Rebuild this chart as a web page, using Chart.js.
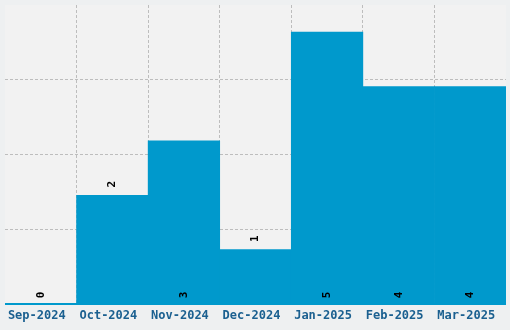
<!DOCTYPE html>
<html>
<head>
<meta charset="utf-8">
<script src="https://cdn.jsdelivr.net/npm/chart.js@4/dist/chart.umd.min.js"></script>
<style>
html,body{margin:0;padding:0;background:#eef0f1;}
canvas{display:block;}
</style>
</head>
<body>
<canvas id="c" width="510" height="330"></canvas>
<script>
const categories = ['Sep-2024','Oct-2024','Nov-2024','Dec-2024','Jan-2025','Feb-2025','Mar-2025'];
const values = [0, 2, 3, 1, 5, 4, 4];
const yTicks = [0, 1.375, 2.75, 4.125, 5.5];

const BAR = '#0099cc';
const GRID = 'rgba(0,0,0,0.22)';
const CLEAR = 'rgba(0,0,0,0)';
const FONT = '"DejaVu Sans Mono", monospace';

const bgPlugin = {
  id: 'bg',
  beforeDraw(chart) {
    const {ctx, chartArea: a} = chart;
    ctx.save();
    ctx.fillStyle = '#f2f2f2';
    ctx.fillRect(a.left, a.top, a.right - a.left, a.bottom - a.top);
    ctx.restore();
  }
};

const labelPlugin = {
  id: 'vlabels',
  afterDraw(chart) {
    const ctx = chart.ctx;
    const a = chart.chartArea;
    const meta = chart.getDatasetMeta(0);
    const base = chart.scales.y.getPixelForValue(0);
    ctx.save();
    // baseline axis line
    ctx.strokeStyle = BAR;
    ctx.lineWidth = 2;
    ctx.beginPath();
    ctx.moveTo(a.left, base);
    ctx.lineTo(a.right, base);
    ctx.stroke();
    ctx.font = 'bold 11px ' + FONT;
    ctx.fillStyle = '#000';
    ctx.textAlign = 'center';
    ctx.textBaseline = 'middle';
    meta.data.forEach((bar, i) => {
      const v = values[i];
      let y;
      if (v === 0 || v >= 3) y = base - 9;
      else y = bar.y - 11;
      ctx.save();
      ctx.translate(bar.x, y);
      ctx.rotate(-Math.PI / 2);
      ctx.fillText(String(v), 0, 0);
      ctx.restore();
    });
    ctx.restore();
  }
};

new Chart(document.getElementById('c'), {
  type: 'bar',
  data: {
    labels: categories,
    datasets: [{
      data: values,
      backgroundColor: BAR,
      borderWidth: 0,
      categoryPercentage: 1,
      barPercentage: 1
    }]
  },
  options: {
    responsive: false,
    animation: false,
    devicePixelRatio: 1,
    layout: { padding: { left: 5, top: 5, right: 4, bottom: 0 } },
    plugins: { legend: { display: false }, tooltip: { enabled: false } },
    scales: {
      x: {
        z: 1,
        offset: true,
        grid: {
          offset: true,
          drawTicks: false,
          lineWidth: 1,
          color: (c) => (c.type !== 'tick' || c.index === 0 || c.index >= categories.length) ? CLEAR : GRID
        },
        border: { display: false, dash: [3, 2] },
        ticks: {
          font: { family: FONT, size: 12, weight: 'bold' },
          color: '#1b6090',
          padding: 5,
          labelOffset: -4,
          maxRotation: 0,
          autoSkip: false
        },
        afterFit(s) { s.height = 26; }
      },
      y: {
        z: 1,
        min: 0,
        max: 5.5,
        afterBuildTicks(s) { s.ticks = yTicks.map(v => ({ value: v })); },
        grid: {
          drawTicks: false,
          color: (c) => (c.type !== 'tick' || c.tick.value === 0 || c.tick.value === 5.5) ? CLEAR : GRID
        },
        border: { display: false, dash: [3, 2] },
        ticks: { display: false },
        afterFit(s) { s.width = 0; }
      }
    }
  },
  plugins: [bgPlugin, labelPlugin]
});
</script>
</body>
</html>
